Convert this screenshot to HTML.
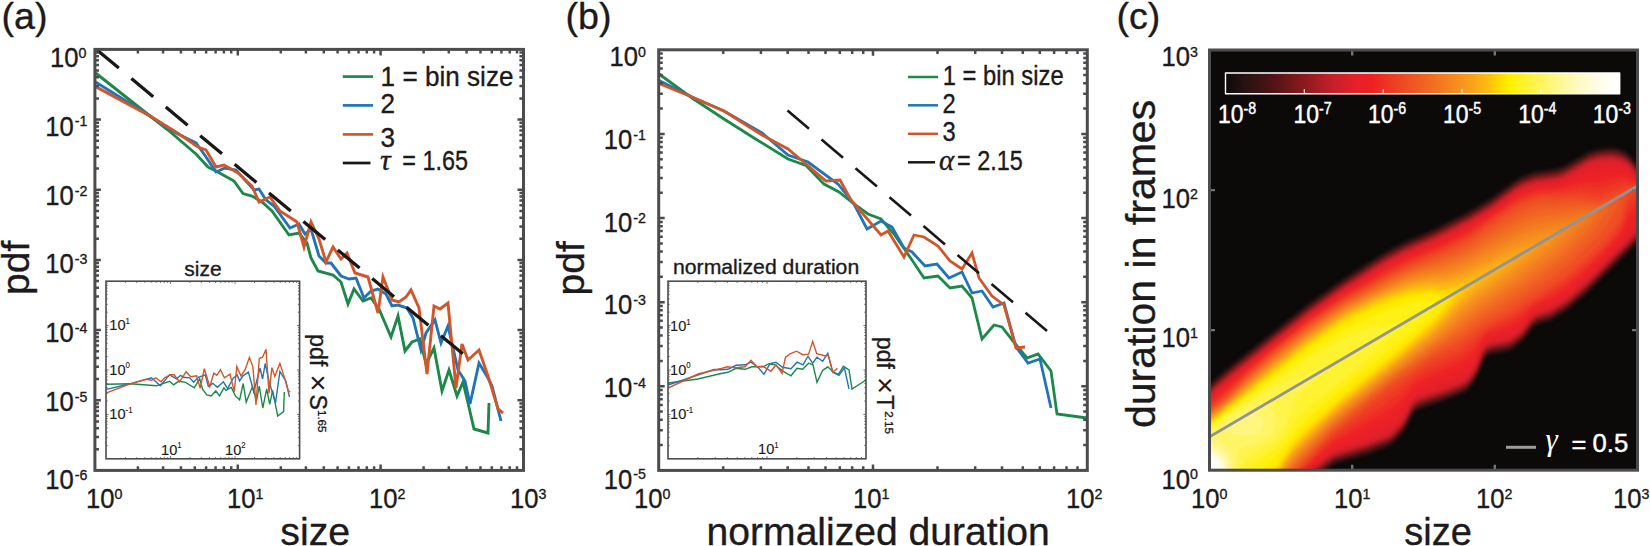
<!DOCTYPE html>
<html lang="en"><head><meta charset="utf-8"><title>Figure</title>
<style>html,body{margin:0;padding:0;background:#fff}body{width:1650px;height:546px;overflow:hidden}</style>
</head><body>
<svg width="1650" height="546" viewBox="0 0 1650 546" font-family="'Liberation Sans', sans-serif" style="display:block" stroke-linejoin="round">
<style>text{stroke:#1c1a1b;stroke-width:.35px}text[fill="#fff"]{stroke:#fff;stroke-width:.45px}</style>
<rect width="1650" height="546" fill="#fff"/>
<text x="1.5" y="28.6" font-size="37.6" text-anchor="start" fill="#1c1a1b" >(a)</text>
<g clip-path="url(#clipA)">
<clipPath id="clipA"><rect x="94.9" y="49.4" width="428.6" height="421.0"/></clipPath>
<polyline points="95.6,73.0 150.0,116.0 168.0,130.0 196.0,154.0 208.0,167.0 216.0,171.0 234.0,181.0 243.0,193.6 252.0,196.0 262.0,202.0 272.0,211.0 289.0,235.0 299.0,233.0 307.0,243.0 311.0,258.0 318.0,271.0 333.0,275.0 341.0,282.0 348.0,304.0 354.0,289.0 363.0,301.0 371.0,298.0 379.0,309.0 391.0,337.0 398.0,316.0 405.0,351.0 412.0,342.0 420.0,339.0 426.0,364.0 434.0,348.0 442.0,391.0 449.0,370.0 457.0,396.0 463.0,382.0 468.0,403.0 474.0,429.0 488.0,433.0 489.0,403.0" fill="none" stroke="#1d8849" stroke-width="2.9" stroke-linejoin="miter" stroke-miterlimit="4" />
<polyline points="95.6,82.0 150.0,116.0 176.0,133.0 196.0,143.0 204.0,154.0 216.0,172.0 225.0,168.0 236.0,170.0 254.0,190.0 259.0,189.0 266.0,200.0 274.0,206.0 290.0,228.0 299.0,224.0 305.0,234.0 311.0,229.0 319.0,256.0 326.0,263.0 331.0,263.0 341.0,276.0 349.0,279.0 356.0,278.0 364.0,298.0 371.0,291.0 378.0,289.0 386.0,294.0 392.0,306.0 398.0,305.0 407.0,308.0 413.0,318.0 421.0,350.0 426.0,333.0 435.0,320.0 441.0,343.0 448.0,326.0 458.0,370.0 465.0,381.0 470.0,404.0 479.0,363.0 488.0,378.0 492.0,386.0 501.0,421.0" fill="none" stroke="#2175b7" stroke-width="2.9" stroke-linejoin="miter" stroke-miterlimit="4" />
<polyline points="95.6,86.6 150.0,116.0 176.0,132.0 198.0,147.0 206.0,150.0 216.0,167.0 224.0,165.0 238.0,173.0 252.0,186.0 259.0,202.0 270.0,197.0 280.0,211.0 297.0,222.0 304.0,247.0 311.0,222.0 319.0,239.0 326.0,262.0 333.0,247.0 341.0,259.0 347.0,253.0 355.0,273.0 368.0,277.0 378.0,313.0 383.0,277.0 392.0,300.0 399.0,302.0 406.0,297.0 411.0,290.0 419.0,308.0 427.0,374.0 434.0,306.0 440.0,309.0 448.0,303.0 456.0,388.0 462.0,344.0 468.0,360.0 479.0,350.0 488.0,376.0 498.0,409.0 503.0,413.0" fill="none" stroke="#d2562b" stroke-width="2.9" stroke-linejoin="miter" stroke-miterlimit="4" />
<line x1="97.0" y1="50.0" x2="118.8" y2="68.1" stroke="#1a1718" stroke-width="3.3"/>
<line x1="131.4" y1="78.6" x2="153.2" y2="96.7" stroke="#1a1718" stroke-width="3.3"/>
<line x1="165.8" y1="107.1" x2="187.6" y2="125.3" stroke="#1a1718" stroke-width="3.3"/>
<line x1="200.2" y1="135.7" x2="222.0" y2="153.8" stroke="#1a1718" stroke-width="3.3"/>
<line x1="234.6" y1="164.3" x2="256.4" y2="182.4" stroke="#1a1718" stroke-width="3.3"/>
<line x1="269.0" y1="192.9" x2="290.8" y2="211.0" stroke="#1a1718" stroke-width="3.3"/>
<line x1="303.4" y1="221.4" x2="325.2" y2="239.5" stroke="#1a1718" stroke-width="3.3"/>
<line x1="337.8" y1="250.0" x2="359.6" y2="268.1" stroke="#1a1718" stroke-width="3.3"/>
<line x1="372.2" y1="278.6" x2="394.0" y2="296.7" stroke="#1a1718" stroke-width="3.3"/>
<line x1="406.6" y1="307.2" x2="428.4" y2="325.3" stroke="#1a1718" stroke-width="3.3"/>
<line x1="441.0" y1="335.7" x2="462.8" y2="353.8" stroke="#1a1718" stroke-width="3.3"/>
</g>
<path d="M137.9 470.4v-4.1M137.9 49.4v4.1M163.1 470.4v-4.1M163.1 49.4v4.1M180.9 470.4v-4.1M180.9 49.4v4.1M194.8 470.4v-4.1M194.8 49.4v4.1M206.1 470.4v-4.1M206.1 49.4v4.1M215.6 470.4v-4.1M215.6 49.4v4.1M223.9 470.4v-4.1M223.9 49.4v4.1M231.2 470.4v-4.1M231.2 49.4v4.1M237.8 470.4v-6.0M237.8 49.4v6.0M280.8 470.4v-4.1M280.8 49.4v4.1M305.9 470.4v-4.1M305.9 49.4v4.1M323.8 470.4v-4.1M323.8 49.4v4.1M337.6 470.4v-4.1M337.6 49.4v4.1M348.9 470.4v-4.1M348.9 49.4v4.1M358.5 470.4v-4.1M358.5 49.4v4.1M366.8 470.4v-4.1M366.8 49.4v4.1M374.1 470.4v-4.1M374.1 49.4v4.1M380.6 470.4v-6.0M380.6 49.4v6.0M423.6 470.4v-4.1M423.6 49.4v4.1M448.8 470.4v-4.1M448.8 49.4v4.1M466.6 470.4v-4.1M466.6 49.4v4.1M480.5 470.4v-4.1M480.5 49.4v4.1M491.8 470.4v-4.1M491.8 49.4v4.1M501.4 470.4v-4.1M501.4 49.4v4.1M509.7 470.4v-4.1M509.7 49.4v4.1M517.0 470.4v-4.1M517.0 49.4v4.1M94.9 449.3h4.1M523.5 449.3h-4.1M94.9 436.9h4.1M523.5 436.9h-4.1M94.9 428.2h4.1M523.5 428.2h-4.1M94.9 421.4h4.1M523.5 421.4h-4.1M94.9 415.8h4.1M523.5 415.8h-4.1M94.9 411.1h4.1M523.5 411.1h-4.1M94.9 407.0h4.1M523.5 407.0h-4.1M94.9 403.4h4.1M523.5 403.4h-4.1M94.9 400.2h6.0M523.5 400.2h-6.0M94.9 379.1h4.1M523.5 379.1h-4.1M94.9 366.8h4.1M523.5 366.8h-4.1M94.9 358.0h4.1M523.5 358.0h-4.1M94.9 351.2h4.1M523.5 351.2h-4.1M94.9 345.6h4.1M523.5 345.6h-4.1M94.9 340.9h4.1M523.5 340.9h-4.1M94.9 336.9h4.1M523.5 336.9h-4.1M94.9 333.3h4.1M523.5 333.3h-4.1M94.9 330.1h6.0M523.5 330.1h-6.0M94.9 308.9h4.1M523.5 308.9h-4.1M94.9 296.6h4.1M523.5 296.6h-4.1M94.9 287.8h4.1M523.5 287.8h-4.1M94.9 281.0h4.1M523.5 281.0h-4.1M94.9 275.5h4.1M523.5 275.5h-4.1M94.9 270.8h4.1M523.5 270.8h-4.1M94.9 266.7h4.1M523.5 266.7h-4.1M94.9 263.1h4.1M523.5 263.1h-4.1M94.9 259.9h6.0M523.5 259.9h-6.0M94.9 238.8h4.1M523.5 238.8h-4.1M94.9 226.4h4.1M523.5 226.4h-4.1M94.9 217.7h4.1M523.5 217.7h-4.1M94.9 210.9h4.1M523.5 210.9h-4.1M94.9 205.3h4.1M523.5 205.3h-4.1M94.9 200.6h4.1M523.5 200.6h-4.1M94.9 196.5h4.1M523.5 196.5h-4.1M94.9 192.9h4.1M523.5 192.9h-4.1M94.9 189.7h6.0M523.5 189.7h-6.0M94.9 168.6h4.1M523.5 168.6h-4.1M94.9 156.3h4.1M523.5 156.3h-4.1M94.9 147.5h4.1M523.5 147.5h-4.1M94.9 140.7h4.1M523.5 140.7h-4.1M94.9 135.1h4.1M523.5 135.1h-4.1M94.9 130.4h4.1M523.5 130.4h-4.1M94.9 126.4h4.1M523.5 126.4h-4.1M94.9 122.8h4.1M523.5 122.8h-4.1M94.9 119.6h6.0M523.5 119.6h-6.0M94.9 98.4h4.1M523.5 98.4h-4.1M94.9 86.1h4.1M523.5 86.1h-4.1M94.9 77.3h4.1M523.5 77.3h-4.1M94.9 70.5h4.1M523.5 70.5h-4.1M94.9 65.0h4.1M523.5 65.0h-4.1M94.9 60.3h4.1M523.5 60.3h-4.1M94.9 56.2h4.1M523.5 56.2h-4.1M94.9 52.6h4.1M523.5 52.6h-4.1" stroke="#4c4c4e" stroke-width="2.5" fill="none"/>
<rect x="94.9" y="49.4" width="428.6" height="421.0" fill="none" stroke="#4c4c4e" stroke-width="3.0" stroke-linejoin="miter"/>
<text transform="translate(86,508) scale(0.95,1)" font-size="27" text-anchor="start" fill="#1c1a1b">10<tspan font-size="15.0" dy="-9.2">0</tspan></text>
<text transform="translate(227,508) scale(0.95,1)" font-size="27" text-anchor="start" fill="#1c1a1b">10<tspan font-size="15.0" dy="-9.2">1</tspan></text>
<text transform="translate(369,508) scale(0.95,1)" font-size="27" text-anchor="start" fill="#1c1a1b">10<tspan font-size="15.0" dy="-9.2">2</tspan></text>
<text transform="translate(510,508) scale(0.95,1)" font-size="27" text-anchor="start" fill="#1c1a1b">10<tspan font-size="15.0" dy="-9.2">3</tspan></text>
<text transform="translate(86.5,67) scale(0.95,1)" font-size="27" text-anchor="end" fill="#1c1a1b">10<tspan font-size="15.0" dy="-9.2">0</tspan></text>
<text transform="translate(87.5,135.6) scale(0.95,1)" font-size="27" text-anchor="end" fill="#1c1a1b">10<tspan font-size="15.0" dy="-9.2" dx="1.2">-1</tspan></text>
<text transform="translate(87.5,205) scale(0.95,1)" font-size="27" text-anchor="end" fill="#1c1a1b">10<tspan font-size="15.0" dy="-9.2" dx="1.2">-2</tspan></text>
<text transform="translate(87.5,273.4) scale(0.95,1)" font-size="27" text-anchor="end" fill="#1c1a1b">10<tspan font-size="15.0" dy="-9.2" dx="1.2">-3</tspan></text>
<text transform="translate(87.5,342) scale(0.95,1)" font-size="27" text-anchor="end" fill="#1c1a1b">10<tspan font-size="15.0" dy="-9.2" dx="1.2">-4</tspan></text>
<text transform="translate(87.5,411) scale(0.95,1)" font-size="27" text-anchor="end" fill="#1c1a1b">10<tspan font-size="15.0" dy="-9.2" dx="1.2">-5</tspan></text>
<text transform="translate(87.5,489) scale(0.95,1)" font-size="27" text-anchor="end" fill="#1c1a1b">10<tspan font-size="15.0" dy="-9.2" dx="1.2">-6</tspan></text>
<text x="280.3" y="545" font-size="39.3" text-anchor="start" fill="#1c1a1b" >size</text>
<text transform="translate(29,267.8) rotate(-90)" font-size="39" text-anchor="middle" fill="#1c1a1b">pdf</text>
<line x1="342.8" y1="76.6" x2="373" y2="76.6" stroke="#1d8849" stroke-width="2.7"/>
<line x1="342.8" y1="105.4" x2="373" y2="105.4" stroke="#2175b7" stroke-width="2.7"/>
<line x1="342.8" y1="134.4" x2="373" y2="134.4" stroke="#d2562b" stroke-width="2.7"/>
<line x1="342.8" y1="163" x2="370.5" y2="163" stroke="#1a1718" stroke-width="2.7"/>
<text transform="translate(380.6,86) scale(0.94,1)" font-size="27.8" text-anchor="start" fill="#1c1a1b" >1 = bin size</text>
<text transform="translate(380.6,113) scale(0.94,1)" font-size="27.8" text-anchor="start" fill="#1c1a1b" >2</text>
<text transform="translate(380.6,146.5) scale(0.94,1)" font-size="27.8" text-anchor="start" fill="#1c1a1b" >3</text>
<text x="380" y="170" font-family="'Liberation Serif', serif" font-style="italic" font-size="30" fill="#1c1a1b">τ</text>
<text transform="translate(402.3,170) scale(0.842,1)" font-size="27.8" text-anchor="start" fill="#1c1a1b" >= 1.65</text>
<rect x="106" y="281.2" width="193.60000000000002" height="177.60000000000002" fill="#fff"/>
<polyline points="106.5,384.3 130.2,383.8 156.4,385.8 169.5,381.3 173.5,384.8 178.6,381.3 185.6,382.3 194.2,387.8 199.7,378.8 202.7,389.4 206.8,394.9 211.0,396.0 215.8,390.9 219.5,396.0 223.9,387.8 225.9,390.4 231.3,387.4 235.5,396.0 239.6,399.9 243.2,383.5 246.2,402.1 252.5,386.6 256.5,400.7 259.3,386.2 262.8,408.0 266.7,388.9 269.7,404.3 272.6,390.4 277.7,416.0 283.6,411.6 284.3,391.9" fill="none" stroke="#1d8849" stroke-width="1.4" stroke-linejoin="miter" stroke-miterlimit="4" />
<polyline points="106.5,389.4 130.2,383.8 151.4,377.8 160.4,385.8 169.5,374.8 176.6,378.8 180.6,375.3 183.6,377.3 189.7,377.8 193.7,382.3 198.2,377.3 205.3,374.8 208.3,386.3 212.8,383.3 217.4,387.3 223.4,381.8 227.6,388.6 233.4,378.0 237.2,374.9 239.6,381.0 243.0,375.8 248.4,372.1 253.8,392.0 260.0,368.2 262.6,379.0 265.2,363.5 268.9,380.9 275.5,402.9 279.9,371.4 285.8,380.9 289.5,397.0" fill="none" stroke="#2175b7" stroke-width="1.4" stroke-linejoin="miter" stroke-miterlimit="4" />
<polyline points="106.5,392.9 130.2,383.8 146.3,379.3 151.4,380.3 155.9,377.8 161.0,381.8 164.5,377.8 170.5,374.8 174.0,374.8 179.6,381.8 186.1,371.7 190.7,376.8 196.7,375.8 200.2,388.4 204.3,368.7 209.8,386.8 213.8,373.2 216.9,375.3 220.4,369.7 224.4,377.8 230.0,374.2 234.3,391.6 236.8,366.4 241.0,376.0 245.1,369.7 249.4,357.5 252.9,366.6 256.0,405.0 259.3,358.4 262.4,357.5 266.0,349.4 269.0,393.3 271.9,367.7 274.8,376.5 279.9,363.3 285.0,379.4 288.7,391.9 290.2,391.1" fill="none" stroke="#d2562b" stroke-width="1.4" stroke-linejoin="miter" stroke-miterlimit="4" />
<path d="M125.4 458.8v-1.7M125.4 281.2v1.7M136.8 458.8v-1.7M136.8 281.2v1.7M144.9 458.8v-1.7M144.9 281.2v1.7M151.1 458.8v-1.7M151.1 281.2v1.7M156.2 458.8v-1.7M156.2 281.2v1.7M160.5 458.8v-1.7M160.5 281.2v1.7M164.3 458.8v-1.7M164.3 281.2v1.7M167.6 458.8v-1.7M167.6 281.2v1.7M170.5 458.8v-2.6M170.5 281.2v2.6M190.0 458.8v-1.7M190.0 281.2v1.7M201.3 458.8v-1.7M201.3 281.2v1.7M209.4 458.8v-1.7M209.4 281.2v1.7M215.6 458.8v-1.7M215.6 281.2v1.7M220.8 458.8v-1.7M220.8 281.2v1.7M225.1 458.8v-1.7M225.1 281.2v1.7M228.8 458.8v-1.7M228.8 281.2v1.7M232.1 458.8v-1.7M232.1 281.2v1.7M235.1 458.8v-2.6M235.1 281.2v2.6M254.5 458.8v-1.7M254.5 281.2v1.7M265.9 458.8v-1.7M265.9 281.2v1.7M273.9 458.8v-1.7M273.9 281.2v1.7M280.2 458.8v-1.7M280.2 281.2v1.7M285.3 458.8v-1.7M285.3 281.2v1.7M289.6 458.8v-1.7M289.6 281.2v1.7M293.3 458.8v-1.7M293.3 281.2v1.7M296.6 458.8v-1.7M296.6 281.2v1.7M106.0 445.4h1.7M299.6 445.4h-1.7M106.0 437.6h1.7M299.6 437.6h-1.7M106.0 432.1h1.7M299.6 432.1h-1.7M106.0 427.8h1.7M299.6 427.8h-1.7M106.0 424.3h1.7M299.6 424.3h-1.7M106.0 421.3h1.7M299.6 421.3h-1.7M106.0 418.7h1.7M299.6 418.7h-1.7M106.0 416.4h1.7M299.6 416.4h-1.7M106.0 414.4h2.6M299.6 414.4h-2.6M106.0 401.0h1.7M299.6 401.0h-1.7M106.0 393.2h1.7M299.6 393.2h-1.7M106.0 387.7h1.7M299.6 387.7h-1.7M106.0 383.4h1.7M299.6 383.4h-1.7M106.0 379.9h1.7M299.6 379.9h-1.7M106.0 376.9h1.7M299.6 376.9h-1.7M106.0 374.3h1.7M299.6 374.3h-1.7M106.0 372.0h1.7M299.6 372.0h-1.7M106.0 370.0h2.6M299.6 370.0h-2.6M106.0 356.6h1.7M299.6 356.6h-1.7M106.0 348.8h1.7M299.6 348.8h-1.7M106.0 343.3h1.7M299.6 343.3h-1.7M106.0 339.0h1.7M299.6 339.0h-1.7M106.0 335.5h1.7M299.6 335.5h-1.7M106.0 332.5h1.7M299.6 332.5h-1.7M106.0 329.9h1.7M299.6 329.9h-1.7M106.0 327.6h1.7M299.6 327.6h-1.7M106.0 325.6h2.6M299.6 325.6h-2.6M106.0 312.2h1.7M299.6 312.2h-1.7M106.0 304.4h1.7M299.6 304.4h-1.7M106.0 298.9h1.7M299.6 298.9h-1.7M106.0 294.6h1.7M299.6 294.6h-1.7M106.0 291.1h1.7M299.6 291.1h-1.7M106.0 288.1h1.7M299.6 288.1h-1.7M106.0 285.5h1.7M299.6 285.5h-1.7M106.0 283.2h1.7M299.6 283.2h-1.7" stroke="#4c4c4e" stroke-width="0.8" fill="none"/>
<rect x="106" y="281.2" width="193.60000000000002" height="177.60000000000002" fill="none" stroke="#4c4c4e" stroke-width="1.6" stroke-linejoin="miter"/>
<text x="203" y="276" font-size="21" text-anchor="middle" fill="#1c1a1b" >size</text>
<text transform="translate(109.3,330.3) scale(0.95,1)" font-size="15.4" text-anchor="start" fill="#1c1a1b" style="stroke-width:.12px">10<tspan font-size="8.3" dy="-6.2">1</tspan></text>
<text transform="translate(109.3,374.6) scale(0.95,1)" font-size="15.4" text-anchor="start" fill="#1c1a1b" style="stroke-width:.12px">10<tspan font-size="8.3" dy="-6.2">0</tspan></text>
<text transform="translate(109.3,418.8) scale(0.95,1)" font-size="15.4" text-anchor="start" fill="#1c1a1b" style="stroke-width:.12px">10<tspan font-size="8.3" dy="-6.2">-1</tspan></text>
<text transform="translate(161,454.5) scale(0.95,1)" font-size="15.4" text-anchor="start" fill="#1c1a1b" style="stroke-width:.12px">10<tspan font-size="8.3" dy="-6.2">1</tspan></text>
<text transform="translate(225,454.5) scale(0.95,1)" font-size="15.4" text-anchor="start" fill="#1c1a1b" style="stroke-width:.12px">10<tspan font-size="8.3" dy="-6.2">2</tspan></text>
<text transform="translate(309.5,334.3) rotate(90)" font-size="23" fill="#1c1a1b">pdf <tspan font-size="29" dy="1.2" dx="1.8" style="stroke-width:0">×</tspan><tspan dy="-1.2" dx="-3.2"> S</tspan><tspan font-size="11.6" dy="-8.5">1.65</tspan></text>
<text x="565.5" y="28.6" font-size="37.6" text-anchor="start" fill="#1c1a1b" >(b)</text>
<clipPath id="clipB"><rect x="658.7" y="49.8" width="428.5999999999999" height="420.59999999999997"/></clipPath>
<g clip-path="url(#clipB)">
<polyline points="659.0,74.0 692.0,98.0 724.0,119.0 754.0,138.0 788.0,159.0 806.0,165.5 824.0,184.0 839.0,192.0 854.0,204.0 868.0,214.0 881.0,219.0 894.0,234.0 912.0,260.0 924.0,278.0 938.0,276.0 950.0,288.0 962.0,286.0 972.0,298.0 982.0,339.0 994.0,325.0 1002.0,327.0 1013.0,341.0 1027.0,358.0 1038.0,354.0 1051.0,371.0 1057.0,414.0 1087.0,418.0" fill="none" stroke="#1d8849" stroke-width="2.8" stroke-linejoin="miter" stroke-miterlimit="4" />
<polyline points="659.0,80.5 692.0,97.0 724.0,111.0 762.0,133.0 788.0,155.0 808.0,162.0 838.0,184.0 854.0,204.0 867.0,229.0 881.0,221.0 892.0,227.0 904.0,248.0 912.0,252.0 925.0,266.0 937.0,264.0 949.0,278.0 962.0,272.0 972.0,293.0 982.0,291.0 993.0,307.0 1004.0,303.0 1016.0,347.0 1028.0,363.0 1040.0,359.0 1051.0,408.0" fill="none" stroke="#2175b7" stroke-width="2.8" stroke-linejoin="miter" stroke-miterlimit="4" />
<polyline points="659.0,83.5 692.0,97.0 724.0,111.0 762.0,135.0 788.0,149.0 806.0,164.0 826.0,181.0 840.0,180.0 851.0,200.0 881.0,235.0 888.0,231.0 904.0,257.0 914.0,235.0 924.0,237.0 938.0,246.0 950.0,261.0 962.0,269.0 972.0,253.0 979.0,278.0 992.0,296.0 1004.0,305.0 1016.0,348.0 1025.0,347.0" fill="none" stroke="#d2562b" stroke-width="2.8" stroke-linejoin="miter" stroke-miterlimit="4" />
<line x1="787.5" y1="110.5" x2="809.0" y2="128.8" stroke="#1a1718" stroke-width="2.6"/>
<line x1="821.5" y1="139.4" x2="843.0" y2="157.7" stroke="#1a1718" stroke-width="2.6"/>
<line x1="855.5" y1="168.3" x2="877.0" y2="186.6" stroke="#1a1718" stroke-width="2.6"/>
<line x1="889.5" y1="197.2" x2="911.0" y2="215.5" stroke="#1a1718" stroke-width="2.6"/>
<line x1="923.5" y1="226.1" x2="945.0" y2="244.4" stroke="#1a1718" stroke-width="2.6"/>
<line x1="957.5" y1="255.0" x2="979.0" y2="273.3" stroke="#1a1718" stroke-width="2.6"/>
<line x1="991.5" y1="283.9" x2="1013.0" y2="302.2" stroke="#1a1718" stroke-width="2.6"/>
<line x1="1025.5" y1="312.8" x2="1047.0" y2="331.1" stroke="#1a1718" stroke-width="2.6"/>
</g>
<path d="M723.2 470.4v-4.1M723.2 49.8v4.1M760.9 470.4v-4.1M760.9 49.8v4.1M787.7 470.4v-4.1M787.7 49.8v4.1M808.5 470.4v-4.1M808.5 49.8v4.1M825.5 470.4v-4.1M825.5 49.8v4.1M839.8 470.4v-4.1M839.8 49.8v4.1M852.2 470.4v-4.1M852.2 49.8v4.1M863.2 470.4v-4.1M863.2 49.8v4.1M873.0 470.4v-6.0M873.0 49.8v6.0M937.5 470.4v-4.1M937.5 49.8v4.1M975.2 470.4v-4.1M975.2 49.8v4.1M1002.0 470.4v-4.1M1002.0 49.8v4.1M1022.8 470.4v-4.1M1022.8 49.8v4.1M1039.8 470.4v-4.1M1039.8 49.8v4.1M1054.1 470.4v-4.1M1054.1 49.8v4.1M1066.5 470.4v-4.1M1066.5 49.8v4.1M1077.5 470.4v-4.1M1077.5 49.8v4.1M658.7 445.1h4.1M1087.3 445.1h-4.1M658.7 430.3h4.1M1087.3 430.3h-4.1M658.7 419.8h4.1M1087.3 419.8h-4.1M658.7 411.6h4.1M1087.3 411.6h-4.1M658.7 404.9h4.1M1087.3 404.9h-4.1M658.7 399.3h4.1M1087.3 399.3h-4.1M658.7 394.4h4.1M1087.3 394.4h-4.1M658.7 390.1h4.1M1087.3 390.1h-4.1M658.7 386.3h6.0M1087.3 386.3h-6.0M658.7 361.0h4.1M1087.3 361.0h-4.1M658.7 346.1h4.1M1087.3 346.1h-4.1M658.7 335.6h4.1M1087.3 335.6h-4.1M658.7 327.5h4.1M1087.3 327.5h-4.1M658.7 320.8h4.1M1087.3 320.8h-4.1M658.7 315.2h4.1M1087.3 315.2h-4.1M658.7 310.3h4.1M1087.3 310.3h-4.1M658.7 306.0h4.1M1087.3 306.0h-4.1M658.7 302.2h6.0M1087.3 302.2h-6.0M658.7 276.8h4.1M1087.3 276.8h-4.1M658.7 262.0h4.1M1087.3 262.0h-4.1M658.7 251.5h4.1M1087.3 251.5h-4.1M658.7 243.4h4.1M1087.3 243.4h-4.1M658.7 236.7h4.1M1087.3 236.7h-4.1M658.7 231.1h4.1M1087.3 231.1h-4.1M658.7 226.2h4.1M1087.3 226.2h-4.1M658.7 221.9h4.1M1087.3 221.9h-4.1M658.7 218.0h6.0M1087.3 218.0h-6.0M658.7 192.7h4.1M1087.3 192.7h-4.1M658.7 177.9h4.1M1087.3 177.9h-4.1M658.7 167.4h4.1M1087.3 167.4h-4.1M658.7 159.2h4.1M1087.3 159.2h-4.1M658.7 152.6h4.1M1087.3 152.6h-4.1M658.7 147.0h4.1M1087.3 147.0h-4.1M658.7 142.1h4.1M1087.3 142.1h-4.1M658.7 137.8h4.1M1087.3 137.8h-4.1M658.7 133.9h6.0M1087.3 133.9h-6.0M658.7 108.6h4.1M1087.3 108.6h-4.1M658.7 93.8h4.1M1087.3 93.8h-4.1M658.7 83.3h4.1M1087.3 83.3h-4.1M658.7 75.1h4.1M1087.3 75.1h-4.1M658.7 68.5h4.1M1087.3 68.5h-4.1M658.7 62.8h4.1M1087.3 62.8h-4.1M658.7 58.0h4.1M1087.3 58.0h-4.1M658.7 53.6h4.1M1087.3 53.6h-4.1" stroke="#4c4c4e" stroke-width="2.5" fill="none"/>
<rect x="658.7" y="49.8" width="428.5999999999999" height="420.59999999999997" fill="none" stroke="#4c4c4e" stroke-width="3.0" stroke-linejoin="miter"/>
<text transform="translate(634,508) scale(0.95,1)" font-size="27" text-anchor="start" fill="#1c1a1b">10<tspan font-size="15.0" dy="-9.2">0</tspan></text>
<text transform="translate(853,508) scale(0.95,1)" font-size="27" text-anchor="start" fill="#1c1a1b">10<tspan font-size="15.0" dy="-9.2">1</tspan></text>
<text transform="translate(1066,508) scale(0.95,1)" font-size="27" text-anchor="start" fill="#1c1a1b">10<tspan font-size="15.0" dy="-9.2">2</tspan></text>
<text transform="translate(646,66) scale(0.95,1)" font-size="27" text-anchor="end" fill="#1c1a1b">10<tspan font-size="15.0" dy="-9.2">0</tspan></text>
<text transform="translate(646,149) scale(0.95,1)" font-size="27" text-anchor="end" fill="#1c1a1b">10<tspan font-size="15.0" dy="-9.2" dx="1.2">-1</tspan></text>
<text transform="translate(646,232.4) scale(0.95,1)" font-size="27" text-anchor="end" fill="#1c1a1b">10<tspan font-size="15.0" dy="-9.2" dx="1.2">-2</tspan></text>
<text transform="translate(646,314) scale(0.95,1)" font-size="27" text-anchor="end" fill="#1c1a1b">10<tspan font-size="15.0" dy="-9.2" dx="1.2">-3</tspan></text>
<text transform="translate(646,397) scale(0.95,1)" font-size="27" text-anchor="end" fill="#1c1a1b">10<tspan font-size="15.0" dy="-9.2" dx="1.2">-4</tspan></text>
<text transform="translate(646,488.6) scale(0.95,1)" font-size="27" text-anchor="end" fill="#1c1a1b">10<tspan font-size="15.0" dy="-9.2" dx="1.2">-5</tspan></text>
<text x="706.6" y="545" font-size="39.1" text-anchor="start" fill="#1c1a1b" >normalized duration</text>
<text transform="translate(584.3,268.3) rotate(-90)" font-size="39" text-anchor="middle" fill="#1c1a1b">pdf</text>
<line x1="908" y1="77" x2="938" y2="77" stroke="#1d8849" stroke-width="2.5"/>
<line x1="908" y1="105.3" x2="938" y2="105.3" stroke="#2175b7" stroke-width="2.5"/>
<line x1="908" y1="133.8" x2="938" y2="133.8" stroke="#d2562b" stroke-width="2.5"/>
<line x1="908" y1="162.3" x2="935" y2="162.3" stroke="#1a1718" stroke-width="2.5"/>
<text transform="translate(942.8,84.6) scale(0.88,1)" font-size="27" text-anchor="start" fill="#1c1a1b" >1 = bin size</text>
<text transform="translate(942.5,113.3) scale(0.88,1)" font-size="27" text-anchor="start" fill="#1c1a1b" >2</text>
<text transform="translate(942.5,141) scale(0.88,1)" font-size="27" text-anchor="start" fill="#1c1a1b" >3</text>
<text x="939" y="169.5" font-family="'Liberation Serif', serif" font-style="italic" font-size="29" fill="#1c1a1b">α</text>
<text transform="translate(957,170) scale(0.868,1)" font-size="27" text-anchor="start" fill="#1c1a1b" >= 2.15</text>
<rect x="668" y="281.2" width="198" height="177.60000000000002" fill="#fff"/>
<clipPath id="clipBI"><rect x="668" y="281.2" width="198" height="177.60000000000002"/></clipPath>
<g clip-path="url(#clipBI)">
<polyline points="668.0,383.0 698.0,379.0 720.0,373.8 728.0,372.3 736.0,368.3 745.0,369.3 752.0,366.8 763.0,366.8 769.0,363.7 775.0,364.8 782.5,370.8 791.0,375.8 797.0,368.3 802.6,369.3 808.6,363.2 813.0,364.8 817.0,382.4 822.7,370.3 827.8,366.8 833.0,371.8 838.4,374.3 843.4,366.3 849.0,369.8 852.0,389.0 866.0,380.0" fill="none" stroke="#1d8849" stroke-width="1.4" stroke-linejoin="miter" stroke-miterlimit="4" />
<polyline points="668.0,385.0 714.0,369.5 720.0,369.8 728.0,369.3 736.0,365.3 745.0,364.8 751.0,362.2 758.0,367.3 764.0,374.3 770.0,363.7 776.0,362.2 782.5,367.3 791.0,368.8 797.0,362.2 803.0,364.8 808.0,356.2 812.7,363.2 817.0,357.2 822.7,361.2 827.8,353.2 832.8,372.3 838.9,375.3 844.4,367.8 849.0,389.0" fill="none" stroke="#2175b7" stroke-width="1.4" stroke-linejoin="miter" stroke-miterlimit="4" />
<polyline points="668.0,388.0 698.0,374.0 720.0,368.8 727.0,366.8 736.0,367.8 745.0,366.8 751.0,360.2 757.0,366.8 763.0,366.3 771.0,371.3 776.0,364.8 782.0,373.3 785.5,357.2 790.5,353.7 796.6,351.2 802.6,354.7 808.6,354.2 812.7,341.6 816.7,353.7 824.8,355.7 828.3,355.2 832.8,372.3 837.4,368.3" fill="none" stroke="#d2562b" stroke-width="1.4" stroke-linejoin="miter" stroke-miterlimit="4" />
</g>
<path d="M697.8 458.8v-1.7M697.8 281.2v1.7M715.2 458.8v-1.7M715.2 281.2v1.7M727.6 458.8v-1.7M727.6 281.2v1.7M737.2 458.8v-1.7M737.2 281.2v1.7M745.0 458.8v-1.7M745.0 281.2v1.7M751.7 458.8v-1.7M751.7 281.2v1.7M757.4 458.8v-1.7M757.4 281.2v1.7M762.5 458.8v-1.7M762.5 281.2v1.7M767.0 458.8v-2.6M767.0 281.2v2.6M796.8 458.8v-1.7M796.8 281.2v1.7M814.2 458.8v-1.7M814.2 281.2v1.7M826.6 458.8v-1.7M826.6 281.2v1.7M836.2 458.8v-1.7M836.2 281.2v1.7M844.0 458.8v-1.7M844.0 281.2v1.7M850.7 458.8v-1.7M850.7 281.2v1.7M856.4 458.8v-1.7M856.4 281.2v1.7M861.5 458.8v-1.7M861.5 281.2v1.7M668.0 445.4h1.7M866.0 445.4h-1.7M668.0 437.6h1.7M866.0 437.6h-1.7M668.0 432.1h1.7M866.0 432.1h-1.7M668.0 427.8h1.7M866.0 427.8h-1.7M668.0 424.3h1.7M866.0 424.3h-1.7M668.0 421.3h1.7M866.0 421.3h-1.7M668.0 418.7h1.7M866.0 418.7h-1.7M668.0 416.4h1.7M866.0 416.4h-1.7M668.0 414.4h2.6M866.0 414.4h-2.6M668.0 401.0h1.7M866.0 401.0h-1.7M668.0 393.2h1.7M866.0 393.2h-1.7M668.0 387.7h1.7M866.0 387.7h-1.7M668.0 383.4h1.7M866.0 383.4h-1.7M668.0 379.9h1.7M866.0 379.9h-1.7M668.0 376.9h1.7M866.0 376.9h-1.7M668.0 374.3h1.7M866.0 374.3h-1.7M668.0 372.0h1.7M866.0 372.0h-1.7M668.0 370.0h2.6M866.0 370.0h-2.6M668.0 356.6h1.7M866.0 356.6h-1.7M668.0 348.8h1.7M866.0 348.8h-1.7M668.0 343.3h1.7M866.0 343.3h-1.7M668.0 339.0h1.7M866.0 339.0h-1.7M668.0 335.5h1.7M866.0 335.5h-1.7M668.0 332.5h1.7M866.0 332.5h-1.7M668.0 329.9h1.7M866.0 329.9h-1.7M668.0 327.6h1.7M866.0 327.6h-1.7M668.0 325.6h2.6M866.0 325.6h-2.6M668.0 312.2h1.7M866.0 312.2h-1.7M668.0 304.4h1.7M866.0 304.4h-1.7M668.0 298.9h1.7M866.0 298.9h-1.7M668.0 294.6h1.7M866.0 294.6h-1.7M668.0 291.1h1.7M866.0 291.1h-1.7M668.0 288.1h1.7M866.0 288.1h-1.7M668.0 285.5h1.7M866.0 285.5h-1.7M668.0 283.2h1.7M866.0 283.2h-1.7" stroke="#4c4c4e" stroke-width="0.8" fill="none"/>
<rect x="668" y="281.2" width="198" height="177.60000000000002" fill="none" stroke="#4c4c4e" stroke-width="1.6" stroke-linejoin="miter"/>
<text transform="translate(673,274.4) scale(1.045,1)" font-size="20.3" text-anchor="start" fill="#1c1a1b" >normalized duration</text>
<text transform="translate(670,331) scale(0.95,1)" font-size="15.4" text-anchor="start" fill="#1c1a1b" style="stroke-width:.12px">10<tspan font-size="8.3" dy="-6.2">1</tspan></text>
<text transform="translate(670,374.6) scale(0.95,1)" font-size="15.4" text-anchor="start" fill="#1c1a1b" style="stroke-width:.12px">10<tspan font-size="8.3" dy="-6.2">0</tspan></text>
<text transform="translate(670,419) scale(0.95,1)" font-size="15.4" text-anchor="start" fill="#1c1a1b" style="stroke-width:.12px">10<tspan font-size="8.3" dy="-6.2">-1</tspan></text>
<text transform="translate(758,454) scale(0.95,1)" font-size="15.4" text-anchor="start" fill="#1c1a1b" style="stroke-width:.12px">10<tspan font-size="8.3" dy="-6.2">1</tspan></text>
<text transform="translate(876.5,337) rotate(90)" font-size="23" fill="#1c1a1b">pdf <tspan font-size="29" dy="1.2" dx="1.5" style="stroke-width:0">×</tspan><tspan dy="-1.2" dx="-4.5"> T</tspan><tspan font-size="11.6" dy="-8.5" dx="2">2.15</tspan></text>
<text x="1116.5" y="28.6" font-size="37.6" text-anchor="start" fill="#1c1a1b" >(c)</text>
<clipPath id="clipH"><rect x="1209.5" y="50" width="428.0" height="420.2"/></clipPath>
<filter id="hblur" x="-5%" y="-5%" width="110%" height="110%" color-interpolation-filters="sRGB"><feGaussianBlur stdDeviation="1.6"/></filter>
<rect x="1209.5" y="50" width="428.0" height="420.2" fill="rgb(12,9,9)"/>
<g clip-path="url(#clipH)"><g filter="url(#hblur)">
<path d="M1602.5 147.5L1613.0 147.0L1619.0 148.1L1623.5 149.8L1626.9 152.0L1631.0 155.8L1640.0 167.4L1643.0 170.4L1644.5 170.9L1649.0 169.9L1649.0 233.9L1646.0 235.6L1641.5 239.8L1587.5 293.6L1568.0 310.6L1550.0 321.8L1538.0 325.3L1535.0 326.9L1530.5 331.2L1523.0 341.5L1512.3 350.0L1508.0 351.9L1490.0 355.4L1487.0 356.8L1484.0 360.7L1478.0 375.7L1475.0 381.4L1470.5 387.8L1466.0 392.3L1461.5 394.6L1445.4 401.0L1421.0 409.2L1416.5 411.3L1413.5 414.1L1412.0 416.3L1406.0 428.3L1403.0 433.1L1395.5 441.6L1391.0 445.6L1386.5 448.0L1368.5 454.7L1335.5 464.6L1329.5 468.1L1317.5 476.9L1313.1 480.5L1312.1 482.0L1197.5 482.0L1197.5 391.3L1200.5 390.0L1205.0 386.6L1230.5 364.9L1309.5 302.0L1343.1 278.0L1380.5 254.0L1391.0 247.9L1405.4 240.5L1434.5 227.9L1470.5 209.6L1490.0 197.9L1514.0 180.3L1521.5 175.6L1535.0 170.8L1554.5 168.1L1560.5 166.6L1566.5 163.8L1589.0 150.9L1595.0 148.8L1602.4 147.5Z" fill="rgb(30,15,15)" fill-rule="evenodd"/>
<path d="M1599.5 148.9L1611.5 147.7L1617.5 148.6L1622.0 150.0L1626.5 152.6L1631.0 156.6L1640.0 168.3L1643.0 171.3L1644.5 171.8L1649.0 170.8L1649.0 233.0L1646.0 234.7L1640.0 240.4L1587.5 292.7L1568.0 309.7L1550.0 320.9L1538.0 324.5L1535.0 326.0L1530.5 330.4L1523.0 340.6L1517.4 345.5L1511.0 349.8L1506.5 351.4L1490.0 354.5L1487.0 356.0L1483.7 360.5L1478.0 374.8L1475.0 380.5L1470.5 386.9L1466.0 391.4L1461.5 393.7L1446.9 399.5L1422.5 407.7L1416.5 410.4L1412.0 415.4L1406.0 427.4L1403.0 432.2L1395.5 440.7L1391.0 444.7L1386.5 447.1L1369.4 453.5L1338.5 462.6L1334.0 464.4L1315.4 477.5L1311.9 480.5L1310.9 482.0L1197.5 482.0L1197.5 392.2L1200.5 390.9L1205.0 387.5L1231.5 365.0L1308.5 303.6L1342.2 279.5L1374.5 258.5L1389.7 249.5L1404.2 242.0L1433.0 229.5L1469.0 211.3L1490.0 198.8L1514.0 181.2L1521.5 176.5L1535.6 171.5L1554.5 169.0L1560.5 167.5L1566.5 164.7L1587.5 152.5L1592.3 150.5L1598.7 149.0Z" fill="rgb(42,18,18)" fill-rule="evenodd"/>
<path d="M1605.5 148.9L1614.5 149.0L1619.0 149.9L1623.5 151.6L1626.5 153.5L1631.0 157.6L1640.0 169.2L1643.0 172.2L1644.5 172.7L1649.0 171.6L1649.0 232.1L1646.0 233.8L1641.5 238.0L1587.5 291.8L1568.0 308.8L1550.0 320.0L1538.0 323.5L1535.0 325.1L1530.5 329.5L1523.0 339.7L1512.5 348.1L1508.0 350.1L1490.0 353.5L1487.0 355.0L1485.5 356.6L1483.2 360.5L1478.0 373.9L1475.0 379.6L1470.5 386.0L1466.0 390.5L1461.5 392.8L1446.5 398.7L1422.5 406.8L1416.5 409.5L1413.5 412.3L1412.0 414.5L1406.0 426.5L1403.0 431.3L1395.5 439.8L1391.0 443.8L1386.5 446.1L1368.5 452.9L1338.5 461.7L1334.0 463.5L1314.2 477.5L1310.6 480.5L1309.6 482.0L1197.5 482.0L1197.5 393.2L1200.5 391.8L1205.0 388.4L1230.8 366.5L1309.9 303.5L1343.5 279.5L1381.0 255.5L1391.4 249.5L1406.0 242.0L1434.5 229.7L1470.5 211.4L1490.0 199.7L1514.0 182.1L1521.5 177.4L1535.0 172.6L1554.5 169.9L1560.5 168.5L1566.5 165.6L1589.0 152.7L1595.0 150.7L1604.8 149.0Z" fill="rgb(54,18,19)" fill-rule="evenodd"/>
<path d="M1601.0 150.5L1611.5 149.6L1617.5 150.5L1622.0 151.9L1626.5 154.4L1631.0 158.5L1640.0 170.1L1643.0 173.1L1644.5 173.5L1649.0 172.4L1649.0 231.2L1646.0 232.9L1640.0 238.5L1587.5 290.9L1568.0 307.8L1550.0 319.1L1538.0 322.6L1535.0 324.1L1530.5 328.6L1523.0 338.8L1512.5 347.1L1508.0 349.2L1491.5 352.2L1487.0 354.1L1483.5 359.0L1478.0 372.9L1475.0 378.7L1470.5 385.1L1466.0 389.5L1461.5 391.8L1446.5 397.8L1422.5 405.9L1416.5 408.6L1412.0 413.6L1406.0 425.6L1403.0 430.4L1395.5 438.9L1391.0 442.8L1386.5 445.2L1368.5 451.9L1338.5 460.8L1334.0 462.6L1312.9 477.5L1309.3 480.5L1308.3 482.0L1197.5 482.0L1197.5 394.1L1200.5 392.7L1205.0 389.3L1232.0 366.5L1308.5 305.5L1342.7 281.0L1377.5 258.5L1390.4 251.0L1404.5 243.7L1434.5 230.7L1469.0 213.2L1490.0 200.6L1514.0 183.0L1521.5 178.4L1535.0 173.5L1554.5 170.9L1560.5 169.4L1566.5 166.6L1589.0 153.7L1593.5 152.0L1600.9 150.5Z" fill="rgb(67,19,20)" fill-rule="evenodd"/>
<path d="M1598.0 152.0L1605.5 150.8L1611.5 150.6L1617.5 151.4L1622.0 152.8L1626.5 155.4L1631.0 159.4L1640.0 171.0L1643.0 174.0L1644.5 174.3L1649.0 173.2L1649.0 230.2L1646.0 231.9L1640.0 237.6L1587.5 290.0L1568.0 306.9L1550.0 318.1L1538.0 321.6L1535.0 323.2L1530.5 327.6L1523.0 337.9L1512.5 346.2L1508.0 348.2L1491.5 351.3L1487.0 353.1L1483.8 357.5L1478.0 372.0L1475.0 377.8L1470.5 384.1L1466.0 388.6L1461.5 390.9L1446.5 396.8L1422.5 404.9L1416.5 407.6L1413.5 410.4L1412.0 412.6L1406.0 424.7L1403.0 429.5L1395.5 437.9L1391.0 441.9L1386.5 444.2L1368.5 451.0L1338.5 459.8L1334.0 461.6L1311.6 477.5L1308.0 480.5L1307.0 482.0L1197.5 482.0L1197.5 395.1L1200.5 393.7L1205.0 390.3L1230.5 368.6L1308.5 306.4L1341.5 282.8L1376.0 260.4L1389.5 252.4L1403.8 245.0L1434.5 231.6L1469.0 214.1L1490.0 201.6L1514.0 183.9L1521.5 179.3L1535.0 174.5L1554.5 171.9L1560.5 170.4L1566.5 167.5L1587.5 155.3L1592.0 153.4L1597.7 152.0Z" fill="rgb(81,20,21)" fill-rule="evenodd"/>
<path d="M1604.0 152.0L1610.0 151.5L1614.5 151.8L1619.0 152.8L1623.5 154.5L1626.5 156.3L1631.0 160.4L1642.5 174.5L1644.5 175.1L1649.0 173.9L1649.0 229.2L1646.0 231.0L1640.0 236.6L1587.5 289.0L1568.0 305.9L1550.0 317.2L1538.0 320.7L1535.0 322.2L1530.5 326.7L1523.0 336.9L1512.5 345.2L1508.0 347.2L1491.5 350.3L1487.0 352.2L1483.3 357.5L1478.0 371.0L1475.0 376.8L1470.5 383.2L1466.0 387.6L1461.5 389.9L1446.5 395.9L1422.5 404.0L1416.5 406.6L1413.5 409.5L1412.0 411.7L1406.0 423.7L1403.0 428.5L1395.5 437.0L1391.0 440.9L1386.5 443.3L1368.5 450.0L1338.5 458.9L1334.0 460.6L1310.3 477.5L1306.7 480.5L1305.7 482.0L1197.5 482.0L1197.5 396.0L1200.5 394.6L1205.0 391.2L1230.5 369.6L1308.5 307.4L1343.0 282.7L1380.5 258.6L1391.0 252.6L1406.0 244.9L1434.5 232.6L1469.0 215.1L1490.0 202.5L1514.0 184.9L1521.5 180.3L1535.0 175.4L1554.5 172.8L1560.5 171.3L1566.5 168.5L1589.0 155.6L1595.0 153.5L1603.8 152.0Z" fill="rgb(98,22,23)" fill-rule="evenodd"/>
<path d="M1601.0 153.4L1611.5 152.5L1617.5 153.3L1622.0 154.8L1626.5 157.3L1631.0 161.3L1641.5 174.7L1643.0 175.6L1644.5 175.8L1649.0 174.6L1649.0 228.3L1646.0 230.0L1640.0 235.7L1587.5 288.1L1568.0 305.0L1550.0 316.2L1538.0 319.7L1535.0 321.3L1530.5 325.7L1523.0 336.0L1512.5 344.3L1508.0 346.3L1491.5 349.4L1487.0 351.2L1483.5 356.0L1478.0 370.0L1475.0 375.8L1470.5 382.2L1466.0 386.7L1461.5 389.0L1446.5 394.9L1422.5 403.0L1416.5 405.7L1413.5 408.5L1412.0 410.6L1406.0 422.8L1403.0 427.6L1395.5 436.0L1391.0 440.0L1386.5 442.3L1368.5 449.1L1338.5 457.9L1334.0 459.7L1309.0 477.5L1305.4 480.5L1304.4 482.0L1197.5 482.0L1197.5 397.0L1200.5 395.6L1205.0 392.2L1230.5 370.5L1308.5 308.3L1341.5 284.7L1376.0 262.3L1389.5 254.3L1404.5 246.6L1434.5 233.5L1469.0 216.0L1490.0 203.5L1514.0 185.9L1521.5 181.2L1535.0 176.4L1554.5 173.8L1560.5 172.3L1566.5 169.4L1589.0 156.5L1593.5 154.9L1600.1 153.5Z" fill="rgb(115,24,25)" fill-rule="evenodd"/>
<path d="M1608.5 153.4L1616.0 154.0L1623.5 156.4L1626.5 158.3L1631.0 162.3L1641.5 175.5L1643.0 176.4L1644.5 176.4L1649.0 175.1L1649.0 227.3L1646.0 229.1L1640.0 234.7L1587.5 287.1L1568.0 304.0L1550.0 315.2L1538.0 318.8L1535.0 320.3L1530.5 324.7L1523.0 335.0L1512.5 343.3L1508.0 345.3L1491.5 348.4L1487.0 350.2L1485.5 351.7L1482.9 356.0L1478.0 368.9L1475.0 374.8L1470.5 381.2L1466.0 385.7L1461.5 388.0L1446.5 394.0L1422.5 402.0L1416.5 404.7L1413.5 407.4L1412.0 409.6L1406.0 421.7L1403.0 426.6L1395.5 435.1L1391.0 439.0L1386.5 441.4L1368.5 448.1L1338.5 457.0L1334.0 458.7L1307.7 477.5L1304.1 480.5L1303.1 482.0L1197.5 482.0L1197.5 397.9L1200.5 396.5L1205.0 393.1L1231.1 371.0L1308.5 309.3L1343.0 284.6L1382.0 259.7L1406.0 246.8L1434.5 234.5L1469.0 217.0L1490.0 204.4L1514.0 186.8L1521.5 182.2L1529.0 179.2L1536.5 177.0L1559.0 173.7L1565.0 171.2L1584.5 159.8L1590.5 156.9L1596.5 155.1L1607.6 153.5Z" fill="rgb(132,25,27)" fill-rule="evenodd"/>
<path d="M1604.0 154.8L1613.0 154.5L1622.0 156.7L1626.5 159.2L1631.0 163.3L1641.5 176.4L1644.5 177.1L1649.0 175.7L1649.0 226.3L1646.0 228.1L1640.0 233.7L1587.5 286.1L1568.0 303.0L1550.0 314.3L1538.0 317.8L1535.0 319.3L1530.5 323.6L1523.0 334.0L1512.2 342.5L1508.0 344.4L1490.0 347.8L1487.0 349.2L1485.5 350.6L1483.1 354.5L1478.0 367.8L1475.0 373.8L1470.5 380.2L1466.0 384.7L1461.5 387.1L1445.2 393.5L1422.5 401.1L1416.5 403.7L1413.5 406.4L1412.0 408.5L1406.0 420.7L1403.0 425.6L1395.5 434.1L1391.0 438.0L1386.5 440.4L1368.5 447.2L1338.5 456.0L1334.0 457.8L1306.4 477.5L1302.7 480.5L1301.7 482.0L1197.5 482.0L1197.5 398.9L1200.5 397.5L1205.0 394.1L1230.5 372.5L1308.5 310.3L1343.0 285.6L1380.5 261.5L1391.0 255.4L1405.5 248.0L1434.5 235.5L1470.5 217.1L1490.0 205.4L1514.0 187.8L1521.5 183.2L1535.0 178.3L1554.5 175.7L1560.5 174.2L1566.5 171.3L1589.0 158.5L1595.0 156.4L1602.8 155.0Z" fill="rgb(150,27,31)" fill-rule="evenodd"/>
<path d="M1599.5 156.5L1611.5 155.4L1617.5 156.2L1622.0 157.7L1625.4 159.5L1629.5 162.8L1641.5 177.2L1644.5 177.7L1649.0 176.2L1649.0 225.4L1646.0 227.0L1640.0 232.6L1587.0 285.5L1568.0 302.0L1550.0 313.3L1538.0 316.8L1535.0 318.3L1530.5 322.6L1522.5 333.5L1517.0 338.1L1511.0 342.2L1505.6 344.0L1490.0 346.8L1487.0 348.2L1483.2 353.0L1478.0 366.6L1475.0 372.7L1470.5 379.1L1466.0 383.7L1461.5 386.1L1446.6 392.0L1422.5 400.1L1416.5 402.7L1412.0 407.3L1403.0 424.5L1395.5 433.0L1391.0 437.0L1385.1 440.0L1369.0 446.0L1340.0 454.5L1334.0 456.8L1328.0 460.6L1305.1 477.5L1301.4 480.5L1300.3 482.0L1197.5 482.0L1197.5 399.9L1200.5 398.5L1205.0 395.1L1231.7 372.5L1308.5 311.2L1342.3 287.0L1377.2 264.5L1389.9 257.0L1404.4 249.5L1434.5 236.4L1469.0 218.9L1490.0 206.4L1515.1 188.0L1521.5 184.1L1536.2 179.0L1554.5 176.7L1560.5 175.2L1566.5 172.3L1588.9 159.5L1593.5 157.8L1599.4 156.5Z" fill="rgb(169,29,35)" fill-rule="evenodd"/>
<path d="M1608.5 156.4L1617.5 157.3L1625.0 160.3L1631.0 165.4L1639.3 176.0L1641.5 178.0L1644.5 178.2L1649.0 176.7L1649.0 224.3L1646.0 225.9L1641.5 230.1L1587.5 284.0L1568.0 301.0L1550.0 312.2L1538.0 315.8L1535.0 317.3L1530.5 321.4L1524.5 330.0L1521.5 333.4L1511.3 341.0L1506.5 342.8L1490.0 345.8L1487.0 347.1L1484.3 350.0L1482.6 353.0L1478.0 365.2L1475.0 371.4L1469.0 379.8L1466.0 382.6L1462.7 384.5L1447.8 390.5L1422.5 399.1L1416.5 401.6L1413.5 404.1L1411.4 407.0L1403.0 423.3L1397.0 430.3L1391.0 436.0L1386.2 438.5L1370.0 444.6L1334.0 455.7L1329.5 458.5L1303.7 477.5L1299.9 480.5L1298.8 482.0L1197.5 482.0L1197.5 400.9L1200.5 399.5L1205.0 396.1L1231.1 374.0L1308.5 312.2L1341.6 288.5L1381.4 263.0L1391.8 257.0L1406.5 249.5L1433.0 238.2L1469.0 220.0L1490.0 207.4L1514.4 189.5L1521.8 185.0L1535.0 180.3L1554.5 177.7L1560.5 176.2L1566.5 173.4L1585.1 162.5L1590.5 159.9L1596.9 158.0L1607.0 156.5Z" fill="rgb(187,31,40)" fill-rule="evenodd"/>
<path d="M1604.0 158.0L1613.0 157.7L1622.0 159.9L1626.5 162.5L1629.5 165.1L1639.7 177.5L1641.5 178.8L1644.5 178.8L1649.0 177.3L1649.0 223.1L1646.0 224.6L1641.5 228.7L1586.2 284.0L1567.0 300.5L1550.0 311.1L1546.6 312.5L1538.0 314.7L1535.0 316.1L1530.5 320.2L1521.7 332.0L1511.8 339.5L1506.5 341.6L1490.0 344.7L1487.0 346.0L1485.5 347.2L1481.9 353.0L1475.0 370.0L1469.0 378.5L1466.0 381.4L1460.0 384.5L1444.8 390.5L1424.0 397.4L1416.5 400.4L1413.5 402.8L1411.5 405.5L1404.5 419.4L1401.5 423.9L1394.0 432.1L1389.9 435.5L1383.2 438.5L1367.0 444.5L1334.0 454.6L1328.0 458.4L1300.2 479.0L1297.3 482.0L1197.5 482.0L1197.5 401.9L1200.5 400.6L1205.0 397.3L1230.7 375.5L1309.5 312.5L1343.2 288.5L1380.7 264.5L1391.0 258.5L1405.7 251.0L1434.5 238.6L1470.5 220.2L1490.0 208.5L1514.0 190.9L1521.5 186.3L1528.3 183.5L1536.5 181.0L1554.5 178.7L1560.5 177.3L1565.0 175.3L1590.5 161.0L1595.2 159.5L1603.8 158.0Z" fill="rgb(203,32,42)" fill-rule="evenodd"/>
<path d="M1604.0 159.4L1613.0 159.1L1621.3 161.0L1626.5 164.0L1629.5 166.6L1640.4 179.0L1643.0 179.7L1649.0 177.8L1649.0 221.5L1646.0 223.0L1643.0 225.6L1587.5 281.3L1567.1 299.0L1550.0 309.7L1547.0 311.1L1538.0 313.4L1533.5 315.9L1529.5 320.0L1521.5 330.7L1512.0 338.0L1506.5 340.3L1490.0 343.4L1485.5 345.8L1481.8 351.5L1475.0 368.2L1469.0 376.8L1465.8 380.0L1460.1 383.0L1444.9 389.0L1421.0 397.0L1416.5 399.0L1413.5 401.3L1411.3 404.0L1404.5 417.6L1401.5 422.2L1394.0 430.4L1389.8 434.0L1383.3 437.0L1367.1 443.0L1340.0 451.0L1334.0 453.3L1328.0 457.1L1298.6 479.0L1295.7 482.0L1197.5 482.0L1197.5 403.2L1200.5 401.9L1206.5 397.3L1232.2 375.5L1307.0 315.5L1342.6 290.0L1377.7 267.5L1390.5 260.0L1405.1 252.5L1434.5 239.8L1470.5 221.5L1490.0 209.7L1515.7 191.0L1523.0 186.8L1536.5 182.2L1554.5 180.0L1560.5 178.6L1568.0 175.1L1590.4 162.5L1595.0 161.0L1603.2 159.5Z" fill="rgb(215,32,42)" fill-rule="evenodd"/>
<path d="M1601.0 162.4L1611.5 161.4L1620.5 162.9L1623.5 164.1L1628.0 167.2L1640.0 179.7L1643.0 180.4L1649.0 178.4L1649.0 218.7L1646.0 220.1L1640.0 225.6L1618.8 248.0L1587.5 279.4L1566.6 297.5L1549.8 308.0L1538.0 311.7L1535.0 313.1L1530.5 317.0L1521.5 328.6L1511.1 336.5L1506.5 338.3L1490.0 341.6L1485.5 344.1L1481.5 350.0L1476.5 362.5L1473.5 368.1L1469.0 374.2L1464.5 378.4L1446.6 386.0L1422.5 394.3L1416.5 396.9L1413.5 399.2L1410.8 402.5L1404.5 414.7L1401.5 419.3L1395.5 426.1L1390.1 431.0L1384.2 434.0L1368.8 440.0L1334.0 451.5L1328.0 455.4L1296.9 479.0L1294.0 482.0L1197.5 482.0L1197.5 404.6L1200.5 403.3L1206.5 398.8L1239.5 371.0L1308.5 315.5L1340.1 293.0L1377.6 269.0L1390.4 261.5L1405.1 254.0L1434.5 241.3L1467.5 224.7L1490.0 211.1L1515.5 192.6L1523.0 188.3L1536.5 183.7L1556.0 181.4L1560.5 180.2L1568.0 176.9L1588.9 165.5L1593.0 164.0L1600.1 162.5Z" fill="rgb(228,32,42)" fill-rule="evenodd"/>
<path d="M1610.0 166.9L1619.0 167.0L1625.0 168.5L1629.5 171.4L1637.5 179.0L1640.0 180.7L1643.0 181.1L1649.0 179.0L1649.0 210.9L1646.0 212.7L1637.0 221.9L1628.0 232.0L1623.6 239.0L1620.0 243.5L1592.0 272.2L1579.2 284.0L1565.0 295.6L1550.0 305.0L1538.0 309.4L1533.5 311.9L1529.8 315.5L1521.5 325.5L1512.9 332.0L1506.5 335.0L1491.5 338.7L1487.0 340.5L1484.0 343.4L1481.8 347.0L1476.5 358.7L1473.5 363.7L1469.0 369.4L1466.0 372.0L1455.9 377.0L1424.0 389.4L1416.5 393.0L1412.0 397.3L1404.5 409.8L1401.5 413.8L1391.0 423.8L1386.5 426.4L1369.8 434.0L1334.0 448.8L1328.0 452.9L1295.2 479.0L1292.4 482.0L1197.5 482.0L1197.5 406.4L1200.5 405.1L1206.5 400.6L1246.9 366.5L1308.2 317.0L1344.5 291.5L1385.7 266.0L1408.9 254.0L1436.0 242.5L1467.5 226.7L1490.0 212.8L1514.1 195.5L1523.0 190.3L1536.5 185.7L1554.5 183.7L1560.5 182.5L1589.0 170.4L1609.3 167.0Z" fill="rgb(234,32,39)" fill-rule="evenodd"/>
<path d="M1613.0 172.8L1622.0 172.5L1626.5 173.5L1640.0 181.7L1643.0 181.9L1649.0 179.8L1649.0 202.3L1646.0 204.1L1643.0 207.0L1629.5 222.5L1626.5 227.4L1622.3 236.0L1617.6 242.0L1605.5 255.1L1589.0 271.5L1572.5 286.0L1565.0 291.8L1550.0 301.2L1538.0 306.4L1533.5 309.1L1523.0 320.1L1512.5 327.9L1507.2 330.5L1491.5 335.3L1487.0 337.3L1482.5 342.4L1475.0 355.9L1470.5 361.4L1466.0 365.6L1457.0 370.3L1431.5 380.8L1416.5 388.0L1412.0 392.1L1403.0 405.0L1391.0 416.1L1370.0 427.4L1334.0 445.3L1325.0 452.4L1303.2 471.5L1293.5 479.0L1290.9 482.0L1197.5 482.0L1197.5 408.5L1202.0 406.2L1216.2 395.0L1227.5 385.6L1241.8 372.5L1263.4 354.5L1308.0 318.5L1342.3 294.5L1386.5 267.7L1407.5 256.9L1437.5 244.1L1466.0 230.0L1490.0 214.8L1515.5 196.8L1524.5 192.1L1536.5 188.1L1560.5 185.4L1587.5 176.5L1601.0 175.0L1611.9 173.0Z" fill="rgb(237,34,36)" fill-rule="evenodd"/>
<path d="M1623.5 177.4L1628.0 178.2L1640.0 182.9L1643.0 183.0L1649.0 180.8L1649.0 193.7L1646.0 195.5L1643.0 198.5L1629.5 214.9L1626.5 220.4L1622.1 231.5L1617.8 237.5L1604.4 252.5L1586.0 270.4L1571.0 283.2L1563.5 288.8L1550.0 297.4L1538.0 303.3L1533.5 306.1L1523.0 316.0L1514.0 322.6L1508.0 325.9L1487.0 334.0L1482.9 338.0L1476.5 348.1L1473.5 351.8L1469.0 356.6L1464.5 360.1L1452.5 366.2L1433.0 374.5L1416.5 383.0L1412.0 386.8L1403.0 397.9L1391.0 408.4L1334.0 441.8L1322.0 452.0L1303.0 470.0L1291.9 479.0L1289.4 482.0L1197.5 482.0L1197.5 410.8L1203.5 407.3L1223.0 392.0L1242.3 374.0L1261.7 357.5L1308.0 320.0L1343.0 295.8L1388.0 269.1L1409.0 258.5L1443.5 243.9L1464.5 233.4L1490.0 217.0L1514.0 200.2L1520.0 196.7L1526.0 194.0L1538.0 190.3L1559.0 188.6L1583.0 182.8L1601.0 181.8L1614.5 178.6L1622.3 177.5Z" fill="rgb(238,46,36)" fill-rule="evenodd"/>
<path d="M1619.0 183.3L1626.5 182.0L1640.0 184.6L1647.9 185.0L1640.0 193.5L1628.0 209.5L1622.5 225.5L1618.0 233.0L1605.1 248.0L1586.0 266.5L1566.5 282.8L1550.0 293.6L1533.5 303.0L1523.0 311.9L1514.0 318.2L1508.0 321.6L1490.0 329.2L1485.5 331.8L1482.2 335.0L1473.5 345.8L1464.5 353.7L1454.0 359.3L1433.0 368.8L1415.0 379.0L1403.0 390.8L1391.0 400.7L1332.5 439.4L1320.5 450.5L1302.7 468.5L1290.3 479.0L1288.1 482.0L1197.5 482.0L1197.5 413.1L1203.0 410.0L1224.5 393.4L1246.2 372.5L1272.4 350.0L1298.3 329.0L1310.0 320.0L1337.0 301.4L1362.5 286.0L1392.5 269.0L1411.1 260.0L1448.0 244.5L1464.5 236.0L1470.5 232.4L1506.5 207.6L1518.5 200.0L1529.0 195.4L1538.0 192.8L1560.5 191.3L1581.5 188.0L1601.0 188.5L1618.2 183.5Z" fill="rgb(238,57,36)" fill-rule="evenodd"/>
<path d="M1626.5 186.3L1634.0 186.8L1636.3 188.0L1636.2 189.5L1626.5 204.5L1622.6 219.5L1620.5 224.5L1614.5 233.0L1605.5 243.6L1583.7 264.5L1565.0 279.8L1549.6 290.0L1533.5 299.8L1515.5 312.8L1508.0 317.3L1485.5 328.3L1482.5 330.6L1470.5 342.4L1463.0 348.2L1452.5 353.9L1434.5 362.2L1412.9 375.5L1391.0 393.0L1367.0 410.0L1332.5 436.0L1320.5 447.7L1303.8 465.5L1288.8 479.0L1286.7 482.0L1197.5 482.0L1197.5 415.2L1202.0 412.8L1225.5 395.0L1246.6 374.0L1272.5 351.5L1296.5 332.0L1310.0 321.6L1337.0 303.1L1352.0 294.0L1394.0 270.6L1412.0 262.0L1448.0 247.2L1463.0 239.6L1470.5 235.2L1503.6 212.0L1518.5 202.7L1532.0 197.0L1541.0 195.1L1559.0 194.4L1580.0 192.8L1586.0 193.3L1596.5 195.2L1601.0 195.3L1606.0 194.0L1625.1 186.5Z" fill="rgb(239,69,36)" fill-rule="evenodd"/>
<path d="M1622.0 192.2L1625.0 191.5L1626.5 191.6L1627.4 192.5L1624.1 201.5L1620.5 216.3L1619.0 219.6L1613.0 228.6L1604.0 239.6L1592.8 251.0L1581.3 261.5L1562.8 276.5L1517.8 306.5L1508.2 312.5L1484.0 325.4L1461.5 343.1L1431.5 359.0L1398.2 381.5L1368.4 404.0L1332.5 433.0L1319.0 446.5L1303.1 464.0L1287.1 479.0L1285.2 482.0L1197.5 482.0L1197.5 417.1L1202.3 414.5L1226.0 396.6L1247.0 375.4L1272.6 353.0L1296.7 333.5L1310.0 323.2L1337.0 304.8L1350.5 296.7L1394.0 272.9L1412.0 264.5L1448.0 250.3L1463.0 242.8L1470.5 238.3L1481.7 230.0L1501.6 216.5L1518.8 206.0L1533.2 200.0L1542.5 198.3L1578.5 197.4L1584.5 198.1L1595.0 200.3L1601.0 200.4L1607.0 198.6L1621.3 192.5Z" fill="rgb(239,80,35)" fill-rule="evenodd"/>
<path d="M1616.0 198.4L1619.0 198.7L1619.4 200.0L1618.6 203.0L1612.6 215.0L1604.9 227.0L1597.8 236.0L1589.7 245.0L1569.5 263.8L1550.8 278.0L1515.7 302.0L1485.5 319.5L1461.5 337.9L1451.7 344.0L1436.0 352.6L1424.0 360.4L1400.0 376.9L1376.1 395.0L1331.0 431.7L1319.0 443.9L1302.5 462.2L1286.0 478.3L1283.4 482.0L1197.5 482.0L1197.5 418.6L1202.4 416.0L1226.0 398.2L1242.5 381.3L1265.9 360.5L1280.2 348.5L1308.5 326.0L1341.5 303.7L1386.5 279.0L1410.5 267.7L1445.0 255.1L1458.5 249.1L1470.5 242.5L1482.5 233.9L1509.5 216.7L1520.0 210.9L1532.0 206.1L1536.5 204.8L1542.5 203.9L1575.5 202.1L1581.5 202.1L1598.0 203.5L1604.0 202.4L1615.4 198.5Z" fill="rgb(240,91,35)" fill-rule="evenodd"/>
<path d="M1598.0 206.0L1607.0 204.6L1608.5 205.1L1609.0 206.0L1608.6 207.5L1604.5 215.0L1597.5 225.5L1589.2 236.0L1579.1 246.5L1566.3 258.5L1549.4 272.0L1519.9 293.0L1508.0 300.9L1484.0 315.2L1461.5 332.8L1433.0 351.2L1401.5 373.1L1368.9 398.0L1329.5 430.7L1284.5 477.8L1281.5 482.0L1197.5 482.0L1197.5 420.0L1203.5 416.6L1226.0 399.6L1242.5 383.0L1262.0 365.7L1277.0 352.9L1305.5 330.0L1340.0 306.4L1368.5 290.7L1389.5 279.7L1409.0 270.9L1425.5 265.0L1445.0 259.0L1458.5 253.4L1470.5 247.1L1482.5 239.0L1506.5 224.3L1518.5 217.8L1529.0 213.5L1536.5 211.0L1545.5 209.6L1578.5 206.6L1597.9 206.0Z" fill="rgb(241,102,34)" fill-rule="evenodd"/>
<path d="M1584.5 210.4L1596.5 209.6L1598.9 210.5L1598.1 213.5L1592.2 222.5L1586.0 230.2L1573.5 243.5L1562.0 254.5L1547.0 266.9L1517.0 288.8L1481.0 312.0L1463.0 326.6L1400.0 371.6L1365.5 398.3L1335.5 423.0L1328.4 429.5L1292.0 467.2L1281.5 479.0L1279.5 482.0L1197.5 482.0L1197.5 421.3L1203.5 417.9L1226.0 400.9L1250.0 377.9L1274.0 357.2L1302.5 334.2L1334.0 312.1L1349.0 303.0L1385.0 284.1L1406.0 274.6L1425.5 268.0L1445.0 262.9L1460.0 256.9L1470.5 251.7L1505.0 230.9L1517.0 224.7L1524.5 221.4L1535.0 217.7L1542.5 216.0L1584.0 210.5Z" fill="rgb(242,114,33)" fill-rule="evenodd"/>
<path d="M1584.5 214.9L1587.5 215.0L1588.4 216.5L1585.8 221.0L1569.5 239.3L1553.0 255.0L1539.2 266.0L1514.0 284.8L1481.0 306.7L1449.5 332.3L1400.0 369.1L1371.5 391.2L1337.0 419.4L1323.0 432.5L1295.0 461.3L1278.3 480.5L1277.5 482.0L1197.5 482.0L1197.5 422.5L1203.8 419.0L1226.0 402.1L1244.0 384.8L1260.5 370.5L1275.5 357.8L1304.0 334.9L1335.5 312.9L1350.5 304.1L1385.0 286.3L1407.5 276.6L1427.0 270.6L1445.0 266.8L1460.0 261.2L1470.5 256.3L1505.0 236.7L1524.5 227.7L1535.0 224.0L1542.5 222.1L1583.6 215.0Z" fill="rgb(243,125,32)" fill-rule="evenodd"/>
<path d="M1563.5 223.9L1572.5 222.7L1574.4 224.0L1573.8 225.5L1564.9 236.0L1551.5 249.2L1514.0 278.7L1479.5 302.6L1439.2 336.5L1371.5 388.9L1337.0 417.1L1323.6 429.5L1295.0 458.6L1275.6 482.0L1197.5 482.0L1197.5 423.8L1200.5 422.5L1205.0 419.4L1226.0 403.3L1244.0 386.4L1263.5 369.7L1304.0 336.8L1334.0 315.7L1346.0 308.3L1379.0 291.3L1404.5 280.2L1413.5 277.1L1425.5 274.0L1445.0 270.7L1457.0 266.7L1470.5 260.9L1502.0 243.9L1520.0 235.6L1539.5 228.9L1562.7 224.0Z" fill="rgb(245,137,31)" fill-rule="evenodd"/>
<path d="M1554.5 231.3L1559.1 231.5L1559.3 233.0L1558.5 234.5L1553.2 240.5L1545.5 247.4L1512.5 273.8L1478.0 298.5L1458.5 315.0L1448.7 324.5L1435.0 336.5L1367.0 390.1L1332.5 418.6L1295.0 455.8L1282.7 471.5L1273.7 482.0L1197.5 482.0L1197.5 425.0L1200.5 423.7L1205.0 420.6L1226.0 404.4L1244.0 388.0L1266.5 369.0L1304.0 338.7L1334.0 317.5L1346.0 310.1L1374.5 295.4L1389.5 288.6L1401.5 283.8L1410.5 280.6L1418.0 278.7L1430.0 276.2L1445.0 274.6L1457.0 270.9L1470.5 265.5L1500.5 250.4L1515.5 243.6L1535.0 236.5L1553.1 231.5Z" fill="rgb(247,148,29)" fill-rule="evenodd"/>
<path d="M1535.0 243.1L1538.0 242.6L1539.5 242.8L1540.0 243.5L1537.8 246.5L1531.2 252.5L1510.8 269.0L1476.5 294.5L1458.5 310.0L1445.9 323.0L1432.9 335.0L1364.0 390.2L1332.5 416.3L1295.0 453.0L1281.5 470.9L1272.7 480.5L1271.8 482.0L1197.5 482.0L1197.5 426.2L1200.5 424.9L1205.0 421.9L1226.0 405.6L1244.0 389.6L1268.0 369.5L1304.0 340.5L1334.0 319.4L1346.0 311.9L1373.0 298.1L1388.0 291.4L1400.0 286.8L1410.5 283.2L1418.0 281.5L1430.0 279.3L1445.0 278.5L1458.5 274.7L1472.0 269.4L1509.5 252.1L1533.6 243.5Z" fill="rgb(249,162,26)" fill-rule="evenodd"/>
<path d="M1509.5 258.4L1512.5 257.9L1514.0 258.4L1511.8 261.5L1503.0 269.0L1476.5 289.2L1460.0 303.6L1443.5 321.5L1432.6 332.0L1407.5 353.0L1344.5 403.7L1328.0 418.1L1295.0 450.3L1290.5 455.8L1280.6 470.0L1270.8 480.5L1270.0 482.0L1197.5 482.0L1197.5 427.5L1200.5 426.2L1205.0 423.1L1224.5 408.0L1269.5 370.1L1305.5 341.3L1335.5 320.2L1346.0 313.8L1373.0 300.1L1389.5 293.0L1403.0 288.2L1412.0 285.5L1422.5 283.5L1431.5 282.4L1445.0 282.4L1457.0 279.4L1472.0 274.1L1497.5 263.0L1509.3 258.5Z" fill="rgb(252,176,22)" fill-rule="evenodd"/>
<path d="M1479.5 276.4L1482.5 275.8L1483.9 276.5L1482.7 278.0L1458.5 300.1L1444.1 317.0L1434.0 327.5L1406.0 351.5L1338.5 406.3L1322.0 421.3L1299.5 442.9L1292.0 451.1L1278.9 470.0L1268.8 480.5L1268.0 482.0L1197.5 482.0L1197.5 428.7L1203.5 425.5L1215.5 416.4L1272.6 369.5L1306.5 342.5L1334.1 323.0L1346.3 315.5L1366.8 305.0L1376.8 300.5L1391.7 294.5L1407.5 289.3L1416.5 287.3L1428.5 285.8L1443.5 286.4L1446.5 286.1L1458.5 283.2L1479.0 276.5Z" fill="rgb(254,193,13)" fill-rule="evenodd"/>
<path d="M1454.0 288.4L1461.5 287.3L1463.0 287.3L1463.7 288.5L1448.2 308.0L1436.0 321.9L1406.1 348.5L1338.5 403.6L1317.5 422.7L1293.6 446.0L1278.5 468.0L1274.0 473.2L1267.8 479.0L1265.6 482.0L1197.5 482.0L1197.5 430.0L1202.0 427.8L1211.0 421.3L1305.5 345.5L1335.1 324.5L1344.7 318.5L1375.0 303.5L1390.2 297.5L1409.0 291.6L1416.5 290.1L1427.0 289.0L1433.0 289.0L1445.0 290.2L1453.7 288.5Z" fill="rgb(255,214,0)" fill-rule="evenodd"/>
<path d="M1413.5 294.5L1430.0 293.1L1443.5 294.7L1449.5 294.6L1451.0 295.3L1451.4 296.0L1450.0 299.0L1440.5 311.8L1430.3 323.0L1408.5 342.5L1341.5 397.2L1313.0 422.8L1294.0 441.5L1289.3 447.5L1277.0 465.7L1271.0 472.2L1263.1 479.0L1260.9 482.0L1197.5 482.0L1197.5 431.4L1202.0 429.3L1211.0 422.8L1305.6 348.5L1340.1 324.5L1360.1 314.0L1376.4 306.5L1396.9 299.0L1413.4 294.5Z" fill="rgb(255,235,0)" fill-rule="evenodd"/>
<path d="M1413.5 301.9L1419.5 300.9L1425.5 300.8L1430.0 301.6L1433.2 303.5L1433.9 305.0L1433.9 306.5L1432.7 309.5L1429.0 315.5L1424.0 321.5L1405.7 338.0L1340.4 390.5L1313.0 414.2L1296.5 430.9L1283.0 449.0L1277.0 456.1L1269.5 463.1L1251.5 476.9L1248.5 479.8L1247.1 482.0L1197.5 482.0L1197.5 432.9L1200.5 431.7L1209.5 425.6L1235.0 405.7L1304.0 355.3L1338.5 332.6L1350.5 326.1L1373.0 315.8L1393.7 308.0L1413.3 302.0Z" fill="rgb(255,241,21)" fill-rule="evenodd"/>
<path d="M1395.5 322.8L1400.0 322.4L1402.3 323.0L1402.2 324.5L1401.3 326.0L1397.3 330.5L1375.7 351.5L1362.5 363.5L1317.5 400.5L1304.0 412.4L1296.5 420.5L1285.3 437.0L1280.0 443.6L1271.0 451.6L1256.0 461.9L1250.0 466.8L1244.0 473.9L1239.0 482.0L1197.5 482.0L1197.5 434.6L1200.5 433.4L1208.0 428.6L1233.5 409.1L1278.5 378.5L1308.5 358.9L1338.2 341.0L1350.2 335.0L1365.5 329.0L1376.0 326.2L1394.3 323.0Z" fill="rgb(255,242,49)" fill-rule="evenodd"/>
<path d="M1326.5 366.3L1329.5 366.1L1330.0 366.5L1327.9 369.5L1304.0 390.9L1299.5 395.6L1295.4 401.0L1292.0 407.8L1289.2 417.5L1286.9 423.5L1283.8 429.5L1280.0 435.0L1275.5 439.8L1269.5 444.5L1251.5 455.0L1247.0 458.3L1242.5 464.5L1234.2 482.0L1197.5 482.0L1197.5 436.4L1202.0 434.6L1209.5 429.8L1227.5 416.0L1238.4 408.5L1266.5 391.8L1284.5 382.9L1325.8 366.5Z" fill="rgb(255,243,76)" fill-rule="evenodd"/>
<path d="M1262.0 402.2L1268.0 401.3L1271.0 401.8L1271.8 402.5L1276.3 419.0L1276.3 423.5L1275.2 428.0L1273.7 431.0L1271.0 434.4L1263.6 440.0L1256.0 443.4L1242.5 447.2L1239.9 449.0L1238.4 452.0L1237.7 461.0L1235.8 470.0L1230.7 482.0L1197.5 482.0L1197.5 438.8L1202.0 437.1L1211.0 432.1L1230.0 417.5L1239.5 411.4L1251.5 405.5L1260.9 402.5Z" fill="rgb(255,245,102)" fill-rule="evenodd"/>
<path d="M1248.5 412.9L1253.0 412.1L1256.6 413.0L1261.2 417.5L1263.2 422.0L1262.9 426.5L1261.2 429.5L1257.7 432.5L1253.0 434.6L1245.5 435.7L1236.5 435.0L1228.3 432.5L1226.2 431.0L1225.7 429.5L1226.2 428.0L1228.5 425.0L1233.6 420.5L1240.9 416.0L1248.2 413.0ZM1209.5 438.4L1215.5 438.5L1218.5 439.6L1221.5 441.5L1224.5 444.2L1227.5 447.9L1231.5 455.0L1233.3 461.0L1233.3 467.0L1231.3 474.5L1227.8 482.0L1197.5 482.0L1197.5 441.7L1209.0 438.5Z" fill="rgb(255,246,127)" fill-rule="evenodd"/>
<path d="M1202.0 444.4L1209.5 444.2L1217.0 446.3L1223.0 450.2L1227.5 455.7L1229.9 461.0L1230.6 467.0L1229.5 473.0L1225.3 482.0L1197.5 482.0L1197.5 445.2L1201.5 444.5Z" fill="rgb(255,248,151)" fill-rule="evenodd"/>
<path d="M1205.0 447.4L1211.0 447.9L1217.0 449.9L1223.0 454.5L1226.5 459.5L1228.1 464.0L1228.1 470.0L1226.9 474.5L1222.9 482.0L1197.5 482.0L1197.5 448.6L1204.3 447.5Z" fill="rgb(255,249,176)" fill-rule="evenodd"/>
<path d="M1202.0 450.4L1208.0 450.0L1214.0 451.3L1220.0 454.9L1223.9 459.5L1225.8 464.0L1226.2 470.0L1224.9 474.5L1220.7 482.0L1197.5 482.0L1197.5 451.3L1201.6 450.5Z" fill="rgb(255,250,197)" fill-rule="evenodd"/>
<path d="M1199.0 453.4L1205.0 452.2L1211.0 452.6L1217.0 455.3L1221.5 459.6L1223.8 464.0L1224.4 470.0L1223.0 474.7L1218.4 482.0L1197.5 482.0L1197.5 453.7L1198.6 453.5Z" fill="rgb(255,252,213)" fill-rule="evenodd"/>
<path d="M1202.0 454.7L1208.0 454.1L1212.5 455.1L1217.5 458.0L1221.1 462.5L1222.6 467.0L1222.4 471.5L1220.5 476.0L1215.9 482.0L1197.5 482.0L1197.5 455.9L1200.8 455.0Z" fill="rgb(255,253,228)" fill-rule="evenodd"/>
<path d="M1203.5 456.2L1209.5 456.2L1214.0 457.8L1217.9 461.0L1220.4 465.5L1220.9 470.0L1220.0 473.5L1217.5 477.5L1213.1 482.0L1197.5 481.7L1197.5 458.0L1202.3 456.5Z" fill="rgb(255,254,242)" fill-rule="evenodd"/>
<path d="M1205.0 457.8L1209.5 458.0L1214.0 459.9L1217.8 464.0L1219.2 468.5L1218.5 473.0L1216.7 476.0L1214.0 478.6L1208.3 482.0L1203.5 481.9L1197.5 478.7L1197.5 460.3L1203.8 458.0Z" fill="rgb(255,255,251)" fill-rule="evenodd"/>
<path d="M1202.0 460.5L1206.5 459.5L1211.0 460.4L1214.3 462.5L1216.5 465.5L1217.3 470.0L1216.6 473.0L1214.5 476.0L1211.0 478.5L1208.0 479.4L1205.0 479.5L1197.5 476.2L1197.5 462.8L1201.0 461.0Z" fill="rgb(255,255,255)" fill-rule="evenodd"/>
</g></g>
<clipPath id="clipC"><rect x="1209.5" y="50" width="428.0" height="420.2"/></clipPath>
<line x1="1205" y1="439.4" x2="1642" y2="183.3" stroke="#929395" stroke-width="2.9" clip-path="url(#clipC)"/>
<path d="M1352.2 470.2v-5.5M1352.2 50v5.5M1209.5 330.1h5.5M1637.5 330.1h-5.5M1494.8 470.2v-5.5M1494.8 50v5.5M1209.5 190.1h5.5M1637.5 190.1h-5.5" stroke="#747476" stroke-width="2.4" fill="none"/>
<rect x="1209.5" y="50" width="428.0" height="420.2" fill="none" stroke="#4c4c4e" stroke-width="3.0" stroke-linejoin="miter"/>
<defs><linearGradient id="hotbar" x1="0" x2="1" y1="0" y2="0">
<stop offset="0.000" stop-color="rgb(12,9,9)"/>
<stop offset="0.050" stop-color="rgb(40,18,18)"/>
<stop offset="0.110" stop-color="rgb(72,19,20)"/>
<stop offset="0.200" stop-color="rgb(139,26,28)"/>
<stop offset="0.270" stop-color="rgb(196,32,42)"/>
<stop offset="0.335" stop-color="rgb(232,32,42)"/>
<stop offset="0.370" stop-color="rgb(237,32,36)"/>
<stop offset="0.420" stop-color="rgb(238,58,36)"/>
<stop offset="0.485" stop-color="rgb(240,90,35)"/>
<stop offset="0.550" stop-color="rgb(243,122,32)"/>
<stop offset="0.610" stop-color="rgb(248,153,29)"/>
<stop offset="0.660" stop-color="rgb(253,184,19)"/>
<stop offset="0.690" stop-color="rgb(255,212,0)"/>
<stop offset="0.720" stop-color="rgb(255,240,0)"/>
<stop offset="0.795" stop-color="rgb(255,244,90)"/>
<stop offset="0.890" stop-color="rgb(255,250,192)"/>
<stop offset="0.960" stop-color="rgb(255,254,240)"/>
<stop offset="1.000" stop-color="rgb(255,255,255)"/>
</linearGradient></defs>
<rect x="1225.5" y="73" width="394.20000000000005" height="20.700000000000003" fill="url(#hotbar)" stroke="#fff" stroke-width="1.4"/>
<path d="M1304.3 93.7v-4.5M1383.2 93.7v-4.5M1462.0 93.7v-4.5M1540.9 93.7v-4.5" stroke="#fff" stroke-width="1.1" fill="none"/>
<text transform="translate(1218,122.7) scale(0.9,1)" font-size="25.5" text-anchor="start" fill="#fff">10<tspan font-size="15.8" dy="-9.2">-8</tspan></text>
<text transform="translate(1293.4,122.7) scale(0.9,1)" font-size="25.5" text-anchor="start" fill="#fff">10<tspan font-size="15.8" dy="-9.2">-7</tspan></text>
<text transform="translate(1368,122.7) scale(0.9,1)" font-size="25.5" text-anchor="start" fill="#fff">10<tspan font-size="15.8" dy="-9.2">-6</tspan></text>
<text transform="translate(1443,122.7) scale(0.9,1)" font-size="25.5" text-anchor="start" fill="#fff">10<tspan font-size="15.8" dy="-9.2">-5</tspan></text>
<text transform="translate(1518.3,122.7) scale(0.9,1)" font-size="25.5" text-anchor="start" fill="#fff">10<tspan font-size="15.8" dy="-9.2">-4</tspan></text>
<text transform="translate(1592.8,122.7) scale(0.9,1)" font-size="25.5" text-anchor="start" fill="#fff">10<tspan font-size="15.8" dy="-9.2">-3</tspan></text>
<line x1="1506" y1="447.3" x2="1536" y2="447.3" stroke="#9c9d9f" stroke-width="3"/>
<text x="1545.5" y="450" font-family="'Liberation Serif', serif" font-style="italic" font-size="31" fill="#fff" style="stroke-width:0">γ</text>
<text transform="translate(1571.5,452.5) scale(0.96,1)" font-size="26.5" text-anchor="start" fill="#fff" >=</text>
<text transform="translate(1592.5,452) scale(0.97,1)" font-size="26.5" text-anchor="start" fill="#fff" >0.5</text>
<text transform="translate(1191,508) scale(0.95,1)" font-size="27" text-anchor="start" fill="#1c1a1b">10<tspan font-size="15.0" dy="-9.2">0</tspan></text>
<text transform="translate(1334,508) scale(0.95,1)" font-size="27" text-anchor="start" fill="#1c1a1b">10<tspan font-size="15.0" dy="-9.2">1</tspan></text>
<text transform="translate(1476,508) scale(0.95,1)" font-size="27" text-anchor="start" fill="#1c1a1b">10<tspan font-size="15.0" dy="-9.2">2</tspan></text>
<text transform="translate(1613,508) scale(0.95,1)" font-size="27" text-anchor="start" fill="#1c1a1b">10<tspan font-size="15.0" dy="-9.2">3</tspan></text>
<text transform="translate(1198,66) scale(0.95,1)" font-size="27" text-anchor="end" fill="#1c1a1b">10<tspan font-size="15.0" dy="-9.2">3</tspan></text>
<text transform="translate(1198,208) scale(0.95,1)" font-size="27" text-anchor="end" fill="#1c1a1b">10<tspan font-size="15.0" dy="-9.2">2</tspan></text>
<text transform="translate(1198,347) scale(0.95,1)" font-size="27" text-anchor="end" fill="#1c1a1b">10<tspan font-size="15.0" dy="-9.2">1</tspan></text>
<text transform="translate(1198,488.6) scale(0.95,1)" font-size="27" text-anchor="end" fill="#1c1a1b">10<tspan font-size="15.0" dy="-9.2">0</tspan></text>
<text x="1404.3" y="545" font-size="38" text-anchor="start" fill="#1c1a1b" >size</text>
<text transform="translate(1155,428) rotate(-90)" font-size="41" fill="#1c1a1b">duration in frames</text>
</svg>
</body></html>
